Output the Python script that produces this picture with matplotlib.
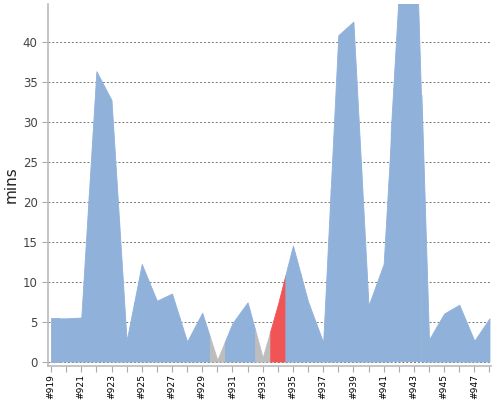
import numpy as np
import matplotlib
matplotlib.use("Agg")
import matplotlib.pyplot as plt

builds = ["#%d" % n for n in range(919, 949)]
mins = [5.4, 5.4, 5.5, 36.3, 32.7, 2.6, 12.2, 7.6, 8.5, 2.5,
        6.1, 0.2, 4.8, 7.4, 0.5, 7.1, 14.5, 7.5, 2.4, 40.8,
        42.5, 7.0, 12.2, 45.0, 64.0, 2.75, 6.0, 7.1, 2.6, 5.4]
status = ["ok"] * 30
status[builds.index("#930")] = "aborted"
status[builds.index("#933")] = "aborted"
status[builds.index("#934")] = "failed"

colors = {"ok": "#8fb1da", "aborted": "#bdbdbd", "failed": "#f05454"}

fig = plt.figure(figsize=(5, 4), dpi=100)
ax = fig.add_axes([0.096, 0.085, 0.886, 0.905])

x = np.arange(len(mins))
y = np.array(mins, dtype=float)
for i, st in enumerate(status):
    lo = max(i - 0.5, 0)
    hi = min(i + 0.5, len(mins) - 1)
    xs = np.array([lo, i, hi])
    ys = np.interp(xs, x, y)
    ax.fill_between(xs, 0, ys, color=colors[st], linewidth=0.6,
                    edgecolor=colors[st], zorder=2)

ax.set_xlim(-0.2, 29.1)
ax.set_ylim(-0.56, 44.7)
ax.set_yticks(np.arange(0, 45, 5))
ax.set_xticks(x)
ax.set_xticklabels([b if i % 2 == 0 else "" for i, b in enumerate(builds)],
                   rotation=90, fontsize=6.6, color="black")
ax.tick_params(axis="y", labelsize=8.5, labelcolor="#444444", color="#aaaaaa",
               length=4, width=0.8)
ax.tick_params(axis="x", color="#aaaaaa", length=4, width=0.8, pad=1.5)
ax.yaxis.grid(True, linestyle=(0, (2, 2)), color="#777777", linewidth=0.7, zorder=1)
ax.set_axisbelow(True)
for s in ["top", "right"]:
    ax.spines[s].set_visible(False)
for s in ["left", "bottom"]:
    ax.spines[s].set_color("#bbbbbb")
    ax.spines[s].set_linewidth(1.2)
ax.set_ylabel("mins", fontsize=11, color="#222222", labelpad=3)

fig.savefig("out.png", dpi=100)
